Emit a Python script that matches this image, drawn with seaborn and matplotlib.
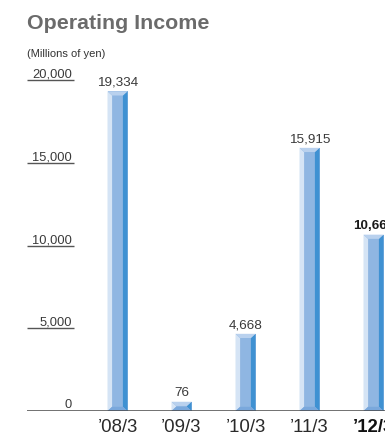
import matplotlib
matplotlib.use("Agg")
import matplotlib.pyplot as plt
import matplotlib.transforms as mtransforms
from matplotlib.patches import Polygon
import seaborn as sns
import pandas as pd

# Operating income by fiscal year (millions of yen)
years = ["\u201908/3", "\u201909/3", "\u201910/3", "\u201911/3", "\u201912/3"]
income = [19334, 76, 4668, 15915, 10665]
value_labels = ["19,334", "76", "4,668", "15,915", "10,665"]
y_ticks = [0, 5000, 10000, 15000, 20000]
y_tick_labels = ["0", "5,000", "10,000", "15,000", "20,000"]

sns.set_theme(style="white")
plt.rcParams["font.family"] = ["Liberation Sans", "DejaVu Sans"]

W, H, DPI = 385, 434, 100
fig = plt.figure(figsize=(W / DPI, H / DPI), dpi=DPI)

left_px, right_px = 27, 385
base_px, top_px = 411, 80.3
ax = fig.add_axes([left_px / W, (H - base_px) / H,
                   (right_px - left_px) / W, (base_px - top_px) / H])

df = pd.DataFrame({"year": years, "income": income})
sns.barplot(data=df, x="year", y="income", ax=ax, width=0.3125,
            color="#8fb6e2", saturation=1, edgecolor="none", linewidth=0)

# horizontal layout: 64 px between bar centres, first centre at x=117.5 px
px_per_unit = 64.0
xmin = -(117.5 - left_px) / px_per_unit
xmax = xmin + (right_px - left_px) / px_per_unit
ax.set_xlim(xmin, xmax)
ax.set_ylim(0, 20000)

for s in ax.spines.values():
    s.set_visible(False)
ax.set_xlabel("")
ax.set_ylabel("")
ax.set_yticks([])

# bevelled faces around each bar; very small bars still show a full bevel cap
units_per_px = 20000 / (base_px - top_px)
bx = 4.6 / px_per_unit
by = 4.2 * units_per_px
cap_tops = []
for p in ax.patches:
    l = p.get_x()
    r = l + p.get_width()
    t = max(p.get_height(), 2.2 * by)
    cap_tops.append(t)
    faces = [
        ([(l, 0), (r, 0), (r, t), (l, t)], "#8fb6e2"),
        ([(l, 0), (l + bx, by), (l + bx, t - by), (l, t)], "#d5e4f5"),
        ([(r, 0), (r - bx, by), (r - bx, t - by), (r, t)], "#3f91d2"),
        ([(l, t), (r, t), (r - bx, t - by), (l + bx, t - by)], "#b9d1ee"),
        ([(l, 0), (r, 0), (r - bx, by), (l + bx, by)], "#7aa8dc"),
    ]
    for pts, c in faces:
        ax.add_patch(Polygon(pts, closed=True, facecolor=c, edgecolor="none", zorder=3))

# value labels above the bars
lab_tr = mtransforms.offset_copy(ax.transData, fig=fig, y=5.5, units="dots")
for i, (v, lab) in enumerate(zip(income, value_labels)):
    last = i == len(income) - 1
    ax.text(i, max(v, cap_tops[i]), lab, transform=lab_tr, ha="center", va="baseline",
            fontsize=9.7, color="#1a1a1a" if last else "#3a3a3a",
            fontweight="bold" if last else "normal", clip_on=False)

# y scale: short rules with the value written on top
blend = mtransforms.blended_transform_factory(ax.transAxes, ax.transData)
rule_end = (73.5 - left_px) / (right_px - left_px)
lbl_tr = mtransforms.offset_copy(blend, fig=fig, y=2.6, units="dots")
for v, lab in zip(y_ticks, y_tick_labels):
    if v > 0:
        ax.plot([0, rule_end], [v, v], transform=blend, color="#555555",
                lw=1.0, clip_on=False, solid_capstyle="butt")
    ax.text(rule_end - 0.004, v, lab, transform=lbl_tr, ha="right",
            va="baseline", fontsize=9.3, color="#3a3a3a", clip_on=False)
ax.axhline(0, color="#4a4a4a", lw=1.1, zorder=4)

# category labels
ax.tick_params(axis="x", length=0, pad=14.9, labelsize=13.4, colors="#2a2a2a")
for t in ax.get_xticklabels():
    t.set_va("baseline")
ax.get_xticklabels()[-1].set_fontweight("bold")
ax.get_xticklabels()[-1].set_color("#111111")

fig.text(left_px / W, 1 - 29.3 / H, "Operating Income", ha="left", va="baseline",
         fontsize=15.4, fontweight="bold", color="#6b6b6b")
fig.text(left_px / W, 1 - 57.3 / H, "(Millions of yen)", ha="left", va="baseline",
         fontsize=8.0, color="#333333")

fig.savefig("out.png", dpi=DPI)
